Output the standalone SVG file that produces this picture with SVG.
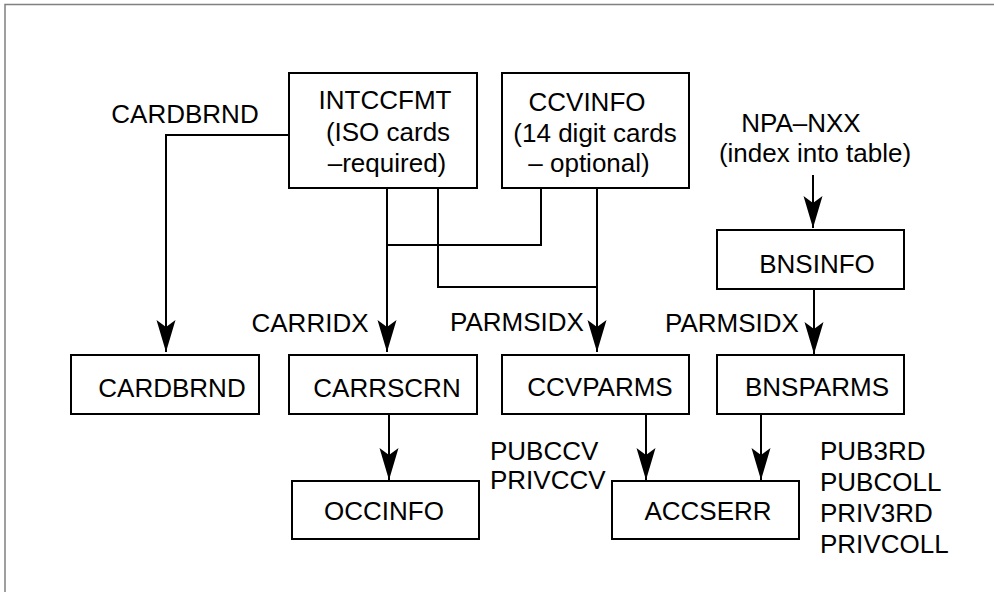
<svg xmlns="http://www.w3.org/2000/svg" width="994" height="592" viewBox="0 0 994 592">
<style>
.box{fill:#fff;stroke:#000;stroke-width:2}
.ln{fill:none;stroke:#000;stroke-width:2}
.arr{fill:none;stroke:#000;stroke-width:2;marker-end:url(#ah)}
text{font-family:"Liberation Sans",Arial,sans-serif;font-size:26px;fill:#000}
.c{text-anchor:middle}
</style>
<defs>
<marker id="ah" markerUnits="userSpaceOnUse" viewBox="-33 -10 34 20" refX="0" refY="0" markerWidth="34" markerHeight="20" orient="auto">
<path d="M0,0 L-32,-9.5 L-25,0 L-32,9.5 Z" fill="#000"/>
</marker>
</defs>
<rect width="994" height="592" fill="#fff"/>
<path d="M5,592 V4.5 H994" fill="none" stroke="#808080" stroke-width="1.5"/>

<g id="connectors">
<path class="arr" d="M289,135 H166 V352"/>
<path class="arr" d="M387,188 V352"/>
<path class="ln" d="M387,245 H541 V188"/>
<path class="ln" d="M438,188 V287 H597"/>
<path class="arr" d="M597,188 V352"/>
<path class="arr" d="M813,175 V228"/>
<path class="arr" d="M814,289 V354"/>
<path class="arr" d="M389,414 V480"/>
<path class="arr" d="M646,414 V480"/>
<path class="arr" d="M761,414 V480"/>
</g>

<g id="labels">
<text class="c" x="185" y="123">CARDBRND</text>
<text class="c" x="801" y="132">NPA–NXX</text>
<text class="c" x="815" y="162">(index into table)</text>
<text class="c" x="310" y="332">CARRIDX</text>
<text class="c" x="517" y="331">PARMSIDX</text>
<text class="c" x="732" y="332">PARMSIDX</text>
<text x="490" y="460">PUBCCV</text>
<text x="490" y="489">PRIVCCV</text>
<text x="820" y="460">PUB3RD</text>
<text x="820" y="491">PUBCOLL</text>
<text x="820" y="522">PRIV3RD</text>
<text x="820" y="553">PRIVCOLL</text>
</g>

<g id="intccfmt">
<rect class="box" x="289" y="73" width="188" height="115"/>
<text class="c" x="385" y="109">INTCCFMT</text>
<text class="c" x="388" y="141">(ISO cards</text>
<text class="c" x="387" y="172">–required)</text>
</g>
<g id="ccvinfo">
<rect class="box" x="502" y="73" width="187" height="115"/>
<text class="c" x="587" y="111">CCVINFO</text>
<text class="c" x="595" y="142">(14 digit cards</text>
<text class="c" x="589" y="172">– optional)</text>
</g>
<g id="bnsinfo">
<rect class="box" x="717" y="230" width="187" height="59"/>
<text class="c" x="817" y="273">BNSINFO</text>
</g>
<g id="cardbrnd">
<rect class="box" x="71" y="355" width="188" height="59"/>
<text class="c" x="172" y="397">CARDBRND</text>
</g>
<g id="carrscrn">
<rect class="box" x="289" y="355" width="188" height="59"/>
<text class="c" x="387" y="397">CARRSCRN</text>
</g>
<g id="ccvparms">
<rect class="box" x="502" y="355" width="187" height="59"/>
<text class="c" x="600" y="396">CCVPARMS</text>
</g>
<g id="bnsparms">
<rect class="box" x="717" y="355" width="187" height="59"/>
<text class="c" x="817" y="396">BNSPARMS</text>
</g>
<g id="occinfo">
<rect class="box" x="292" y="481" width="187" height="58"/>
<text class="c" x="384" y="520">OCCINFO</text>
</g>
<g id="accserr">
<rect class="box" x="612" y="481" width="187" height="58"/>
<text class="c" x="708" y="520">ACCSERR</text>
</g>
</svg>
